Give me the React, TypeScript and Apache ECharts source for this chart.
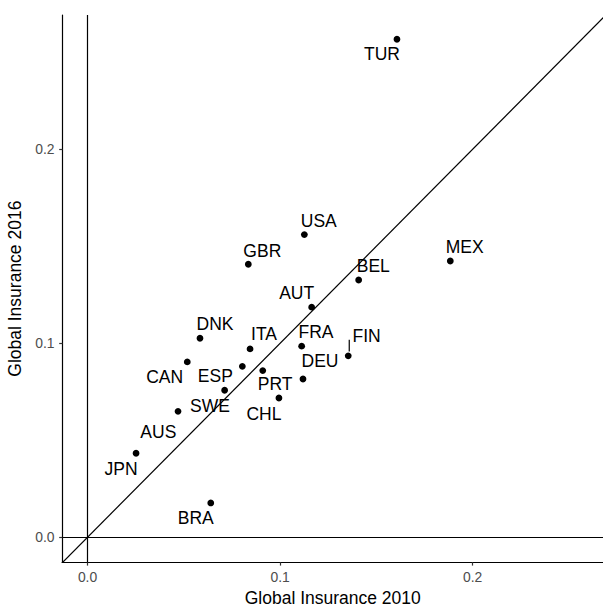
import React, { useEffect, useRef } from "react";
import * as echarts from "echarts";

// Country codes and their global insurance index in 2010 and 2016
const countries = [
  "TUR", "USA", "MEX", "BEL", "GBR", "AUT", "DNK", "ITA", "FRA", "CAN",
  "ESP", "PRT", "DEU", "FIN", "SWE", "CHL", "AUS", "JPN", "BRA",
];
const insurance2010 = [
  0.1607, 0.1126, 0.1884, 0.1408, 0.0835, 0.1164, 0.0584, 0.0844, 0.1112, 0.0518,
  0.0804, 0.091, 0.1119, 0.1354, 0.0712, 0.0994, 0.047, 0.0252, 0.064,
];
const insurance2016 = [
  0.2567, 0.156, 0.1424, 0.1326, 0.1407, 0.1186, 0.1026, 0.0971, 0.0985, 0.0904,
  0.0881, 0.0859, 0.0816, 0.0935, 0.0758, 0.0718, 0.0649, 0.0433, 0.0177,
];
const tickValues = [0, 0.1, 0.2];

// Axis extents
const xMin = -0.013;
const xMax = 0.2677;
const yMin = -0.0129;
const yMax = 0.2692;

// Label placement (pixel offset of each label centre from its point)
const labelOffsets: Record<string, [number, number]> = {
  TUR: [-15, 15],
  USA: [14.4, -14],
  MEX: [14.4, -14],
  BEL: [14.6, -14.3],
  GBR: [14, -13.6],
  AUT: [-15, -14.6],
  DNK: [15, -14],
  ITA: [14, -14.7],
  FRA: [14.3, -14.3],
  CAN: [-22.6, 15.3],
  ESP: [-27, 9.4],
  PRT: [12.3, 13.6],
  DEU: [17, -17.7],
  FIN: [18.4, -20.3],
  SWE: [-14.7, 15.4],
  CHL: [-15, 15.7],
  AUS: [-19.7, 20.4],
  JPN: [-15, 15.7],
  BRA: [-15, 15],
};
// Points whose label is joined to the dot by a short segment
const leaderLabels = ["FIN"];

const FONT = "'Liberation Sans', Arial, Helvetica, sans-serif";

export default function App() {
  const ref = useRef<HTMLDivElement>(null);

  useEffect(() => {
    document.body.style.margin = "0";
    if (!ref.current) return;
    const chart = echarts.init(ref.current, undefined, { renderer: "svg" });

    const points = countries.map((c, i) => ({
      name: c,
      value: [insurance2010[i], insurance2016[i]],
      label: { offset: labelOffsets[c] },
    }));

    const leaders = countries
      .map((c, i) => ({ c, v: [insurance2010[i], insurance2016[i]] }))
      .filter((d) => leaderLabels.includes(d.c))
      .map((d) => d.v);

    const axisCommon = {
      type: "value" as const,
      splitLine: { show: false },
      axisLine: { show: true, onZero: false, lineStyle: { color: "#000", width: 1.2 } },
      axisTick: {
        show: true,
        length: 3.3,
        customValues: tickValues,
        lineStyle: { color: "#333", width: 1.2 },
      },
      axisLabel: {
        customValues: tickValues,
        formatter: (v: number) => v.toFixed(1),
        color: "#4D4D4D",
        fontSize: 13.9,
        fontFamily: FONT,
        margin: 8,
      },
      nameLocation: "middle" as const,
      nameTextStyle: { color: "#000", fontSize: 17.5, fontFamily: FONT },
    };

    chart.setOption({
      animation: false,
      backgroundColor: "#fff",
      grid: { left: 62.5, right: 0, top: 15, bottom: 44.7, containLabel: false, outerBoundsMode: "none" },
      xAxis: { ...axisCommon, min: xMin, max: xMax, name: "Global Insurance 2010", nameGap: 25 },
      yAxis: { ...axisCommon, min: yMin, max: yMax, name: "Global Insurance 2016", nameGap: 32 },
      series: [
        {
          // 45-degree reference line plus the zero lines
          type: "line",
          data: [
            [-0.05, -0.05],
            [0.3, 0.3],
          ],
          clip: true,
          symbol: "none",
          silent: true,
          lineStyle: { color: "#000", width: 1.2 },
          markLine: {
            silent: true,
            symbol: ["none", "none"],
            label: { show: false },
            lineStyle: { color: "#000", width: 1.2, type: "solid" },
            data: [{ xAxis: 0 }, { yAxis: 0 }],
          },
        },
        {
          type: "custom",
          silent: true,
          data: leaders,
          renderItem: (_params: any, api: any) => {
            const p = api.coord([api.value(0), api.value(1)]);
            return {
              type: "line",
              shape: { x1: p[0] + 1, y1: p[1] - 4.3, x2: p[0] + 1, y2: p[1] - 16 },
              style: { stroke: "#000", lineWidth: 1.2 },
            };
          },
        },
        {
          type: "scatter",
          data: points,
          symbol: "circle",
          symbolSize: 6.8,
          itemStyle: { color: "#000", opacity: 1 },
          silent: true,
          label: {
            show: true,
            position: "inside",
            formatter: "{b}",
            color: "#000",
            fontSize: 17.5,
            fontFamily: FONT,
            align: "center",
            verticalAlign: "middle",
          },
        },
      ],
    });

    return () => chart.dispose();
  }, []);

  return <div ref={ref} style={{ width: 603, height: 607 }} />;
}
